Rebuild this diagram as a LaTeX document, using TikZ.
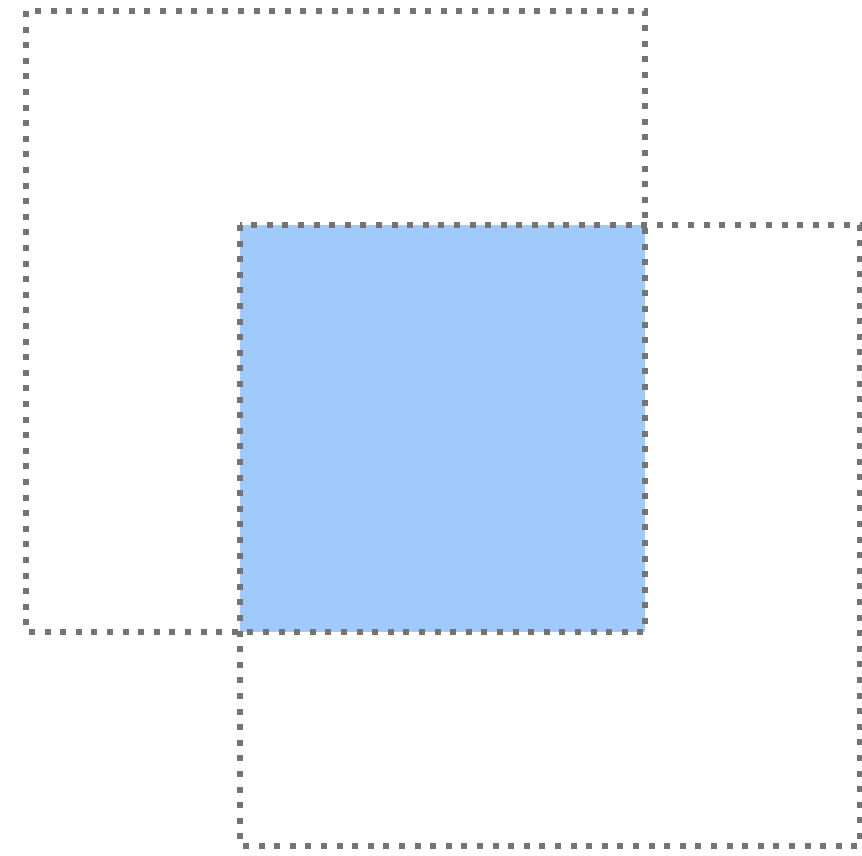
\documentclass[tikz,border=0pt]{standalone}
\definecolor{fillblue}{HTML}{9FCAFB}
\definecolor{dotgray}{HTML}{747474}
\begin{document}
\begin{tikzpicture}[x=1pt,y=-1pt,
  dottedbox/.style={draw=dotgray,line width=6pt,dash pattern=on 6pt off 9.6pt}]
\useasboundingbox (0,0) rectangle (862,856);
\coordinate (a1) at (26,11);
\coordinate (a2) at (645,632);
\coordinate (b1) at (240,225);
\coordinate (b2) at (860,846);
\fill[fillblue] (240,225) rectangle (645,632);
\draw[dottedbox] (a1) rectangle (a2);
\draw[dottedbox] (b1) rectangle (b2);
\end{tikzpicture}
\end{document}
